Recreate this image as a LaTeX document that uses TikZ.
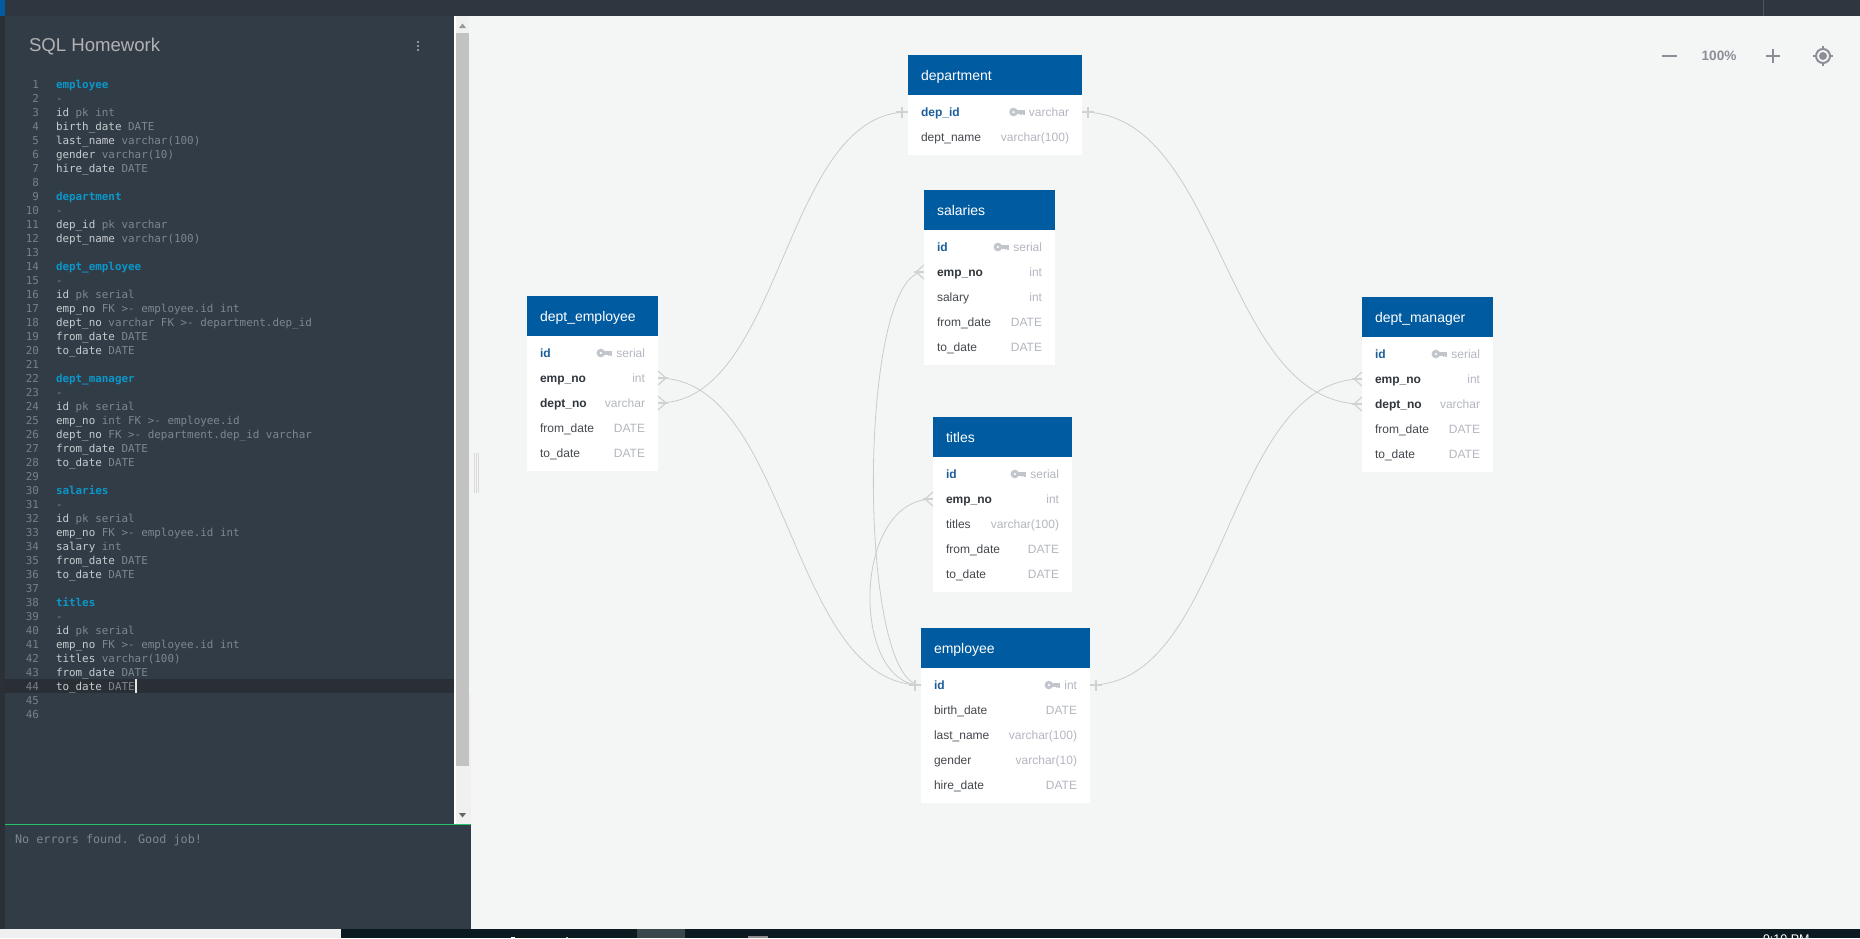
\documentclass[tikz,border=0pt]{standalone}
\usepackage{fontspec}
\setmainfont{Liberation Sans}
\newfontfamily\edfont{DejaVu Sans Mono}
\definecolor{bgc}{HTML}{F4F6F5}
\definecolor{panelc}{HTML}{323C47}
\definecolor{topc}{HTML}{2E3640}
\definecolor{stripc}{HTML}{2A3036}
\definecolor{curlc}{HTML}{2A2F35}
\definecolor{hdrc}{HTML}{015BA0}
\definecolor{relc}{HTML}{CACBCB}
\definecolor{footc}{HTML}{D0D1D1}
\definecolor{keyc}{HTML}{C2C5CC}
\definecolor{typec}{HTML}{B4B7C0}
\definecolor{pkc}{HTML}{1C5E9A}
\definecolor{fkc}{HTML}{30363C}
\definecolor{rowc}{HTML}{44484E}
\definecolor{kwc}{HTML}{0B97C9}
\definecolor{edtxt}{HTML}{C6CCCF}
\definecolor{edgrey}{HTML}{7D878F}
\definecolor{lnc}{HTML}{77818A}
\definecolor{ctlc}{HTML}{8A8E96}
\definecolor{taskc}{HTML}{0A1A20}
\definecolor{taskhi}{HTML}{3A474C}
\definecolor{greenc}{HTML}{22C26A}
\tikzset{
  x=1pt,y=-1pt,
  txt/.style={inner sep=0pt,outer sep=0pt},
  tblbody/.style={fill=white,inner sep=0pt,outer sep=0pt,anchor=north west},
  tblhead/.style={fill=hdrc,inner sep=0pt,outer sep=0pt,anchor=north west,minimum height=40pt},
  tbltitle/.style={txt,anchor=base west,text=white,font=\fontsize{14}{16}\selectfont},
  rowbox/.style={inner sep=0pt,outer sep=0pt,minimum height=25pt,anchor=west},
  collabel/.style={txt,anchor=base west,text=rowc,font=\fontsize{12}{14}\selectfont},
  pklabel/.style={txt,anchor=base west,text=pkc,font=\fontsize{12}{14}\selectfont\bfseries},
  fklabel/.style={txt,anchor=base west,text=fkc,font=\fontsize{12}{14}\selectfont\bfseries},
  coltype/.style={txt,anchor=base east,text=typec,font=\fontsize{12}{14}\selectfont},
  rel/.style={draw=relc,line width=0.8pt},
  relfoot/.style={draw=footc,line width=1.2pt},
  lnum/.style={txt,anchor=base east,text=lnc,font=\edfont\fontsize{10.9}{14}\selectfont},
  edline/.style={txt,anchor=base west,text=edtxt,font=\edfont\fontsize{10.9}{14}\selectfont},
  edhead/.style={txt,anchor=base west,text=kwc,font=\edfont\fontsize{10.9}{14}\selectfont\bfseries},
}
\newcommand{\gy}[1]{\textcolor{edgrey}{#1}}
\newcommand{\cl}[2]{%
  \node[lnum] (ln#1) at (39,{74+14*#1}) {#1};
  \node[edline] (ed#1) at (56,{74+14*#1}) {#2};}
\newcommand{\ch}[2]{%
  \node[lnum] (ln#1) at (39,{74+14*#1}) {#1};
  \node[edhead] (ed#1) at (56,{74+14*#1}) {#2};}
% table: id, x, width, top, title, rows
\newcommand{\dbtable}[6]{%
  \node[tblbody,minimum width=#3pt,minimum height={25*#6+10}] (#1) at (#2,#4+40) {};
  \node[tblhead,minimum width=#3pt] (#1-head) at (#2,#4) {};
  \node[tbltitle] (#1-title) at (#2+13,#4+25) {#5};}
% row: name, x, width, y centre, label style, label, type
\newcommand{\dbrow}[7]{%
  \node[rowbox,minimum width=#3pt] (#1) at (#2,#4) {};
  \node[#5] (#1-l) at ([shift={(13pt,-4pt)}]#1.west) {#6};
  \node[coltype] (#1-t) at ([shift={(-13pt,-4pt)}]#1.east) {#7};}
\newcommand{\keyicon}[1]{%
  \begin{scope}[shift={(#1.base west)}]
    \fill[keyc,even odd rule] (-15.5,-4) circle[radius=4.3] (-15.5,-4) circle[radius=1.5];
    \fill[keyc] (-12,-5.8) rectangle (-4,-2.3);
    \fill[keyc] (-8.8,-2.3) rectangle (-7,-0.6);
    \fill[keyc] (-6,-2.3) rectangle (-4,-0.6);
  \end{scope}}
\newcommand{\crowR}[1]{%
  \draw[relfoot] ([yshift=7pt]#1.east) -- ([xshift=8pt]#1.east) -- ([yshift=-7pt]#1.east);
  \draw[relfoot] (#1.east) -- ([xshift=10pt]#1.east);}
\newcommand{\crowL}[1]{%
  \draw[relfoot] ([yshift=7pt]#1.west) -- ([xshift=-8pt]#1.west) -- ([yshift=-7pt]#1.west);
  \draw[relfoot] (#1.west) -- ([xshift=-10pt]#1.west);}
\newcommand{\barR}[1]{%
  \draw[relfoot] (#1.east) -- ([xshift=12pt]#1.east);
  \draw[relfoot] ([shift={(6pt,5.5pt)}]#1.east) -- ([shift={(6pt,-5.5pt)}]#1.east);}
\newcommand{\barL}[1]{%
  \draw[relfoot] (#1.west) -- ([xshift=-12pt]#1.west);
  \draw[relfoot] ([shift={(-6pt,5.5pt)}]#1.west) -- ([shift={(-6pt,-5.5pt)}]#1.west);}
\begin{document}
\begin{tikzpicture}
\useasboundingbox (0,0) rectangle (1860,938);
\clip (0,0) rectangle (1860,938);
% backgrounds
\fill[bgc] (0,0) rectangle (1860,938);
\fill[topc] (0,0) rectangle (1860,16);
\fill[hdrc] (0,0) rectangle (5,16);
\draw[color=topc!85!white,line width=0.7pt] (1763,0) -- (1763,16);
\fill[stripc] (0,16) rectangle (5,929);
\fill[panelc] (5,16) rectangle (454,824);
\fill[panelc] (5,824) rectangle (471,929);
\fill[curlc] (5,679) rectangle (454,693);
\fill[white] (454,16) rectangle (456,824);
\fill[black!6] (456,16) rectangle (469,824);
\fill[black!24] (456,33) rectangle (469,766);
\fill[black!6] (469,693) rectangle (471,824);
\fill[black!40] (459,28) -- (462.5,23.5) -- (466,28) -- cycle;
\fill[black!60] (459,813) -- (462.5,817.5) -- (466,813) -- cycle;
\draw[color=greenc,line width=1.2pt] (5,824.4) -- (471,824.4);
\foreach \lx in {474,476,478} \draw[color=black!15,line width=0.8pt] (\lx,453) -- (\lx,493);
% bottom bar
\fill[black!6] (0,929) rectangle (341,938);
\fill[taskc] (341,929) rectangle (1860,938);
\fill[taskhi] (637,929) rectangle (685,938);
\fill[white] (511,936.6) rectangle (515,938);
\fill[black!30!white] (566,937) rectangle (568,938);
\fill[black!45!white] (748,936.4) rectangle (768,938);
\node[txt,anchor=base west,text=white,font=\fontsize{12.5}{14}\selectfont] (clock) at (1763,943.5) {9:10 PM};
% title
\node[txt,anchor=base west,text=black!30!white,font=\fontsize{18.6}{20}\selectfont] (doctitle) at (29,51.5) {SQL Homework};
\foreach \dy in {42,46,50} \fill[black!30!white] (418,\dy) circle[radius=1.2];
% editor
\ch{1}{employee}
\cl{2}{\gy{-}}
\cl{3}{id \gy{pk int}}
\cl{4}{birth\_date \gy{DATE}}
\cl{5}{last\_name \gy{varchar(100)}}
\cl{6}{gender \gy{varchar(10)}}
\cl{7}{hire\_date \gy{DATE}}
\cl{8}{}
\ch{9}{department}
\cl{10}{\gy{-}}
\cl{11}{dep\_id \gy{pk varchar}}
\cl{12}{dept\_name \gy{varchar(100)}}
\cl{13}{}
\ch{14}{dept\_employee}
\cl{15}{\gy{-}}
\cl{16}{id \gy{pk serial}}
\cl{17}{emp\_no \gy{FK >- employee.id int}}
\cl{18}{dept\_no \gy{varchar FK >- department.dep\_id}}
\cl{19}{from\_date \gy{DATE}}
\cl{20}{to\_date \gy{DATE}}
\cl{21}{}
\ch{22}{dept\_manager}
\cl{23}{\gy{-}}
\cl{24}{id \gy{pk serial}}
\cl{25}{emp\_no \gy{int FK >- employee.id}}
\cl{26}{dept\_no \gy{FK >- department.dep\_id varchar}}
\cl{27}{from\_date \gy{DATE}}
\cl{28}{to\_date \gy{DATE}}
\cl{29}{}
\ch{30}{salaries}
\cl{31}{\gy{-}}
\cl{32}{id \gy{pk serial}}
\cl{33}{emp\_no \gy{FK >- employee.id int}}
\cl{34}{salary \gy{int}}
\cl{35}{from\_date \gy{DATE}}
\cl{36}{to\_date \gy{DATE}}
\cl{37}{}
\ch{38}{titles}
\cl{39}{\gy{-}}
\cl{40}{id \gy{pk serial}}
\cl{41}{emp\_no \gy{FK >- employee.id int}}
\cl{42}{titles \gy{varchar(100)}}
\cl{43}{from\_date \gy{DATE}}
\cl{44}{to\_date \gy{DATE}}
\cl{45}{}
\cl{46}{}
\fill[black!10] (135,679) rectangle (136.6,693);
\node[txt,anchor=base west,text=edgrey,font=\edfont\fontsize{11.8}{14}\selectfont] (console) at (15,843) {No errors found. Good job!};
% zoom controls
\draw[ctlc,line width=2pt] (1662,55.5) -- (1677,55.5);
\node[txt,text=ctlc,font=\fontsize{13.6}{15}\selectfont\bfseries] (zoomlevel) at (1719,55.5) {100\%};
\draw[ctlc,line width=2pt] (1766,55.5) -- (1780,55.5) (1773,48.5) -- (1773,62.5);
\draw[ctlc,line width=2pt] (1823,56) circle[radius=7];
\fill[ctlc] (1823,56) circle[radius=4];
\draw[ctlc,line width=1.6pt] (1823,46) -- (1823,49) (1823,63) -- (1823,66) (1813,56) -- (1816,56) (1830,56) -- (1833,56);
% tables
\dbtable{de}{527}{131}{296}{dept\_employee}{5}
\dbrow{de-id}{527}{131}{353}{pklabel}{id}{serial}
\dbrow{de-empno}{527}{131}{378}{fklabel}{emp\_no}{int}
\dbrow{de-deptno}{527}{131}{403}{fklabel}{dept\_no}{varchar}
\dbrow{de-from}{527}{131}{428}{collabel}{from\_date}{DATE}
\dbrow{de-to}{527}{131}{453}{collabel}{to\_date}{DATE}
\keyicon{de-id-t}
\dbtable{dp}{908}{174}{55}{department}{2}
\dbrow{dp-depid}{908}{174}{112}{pklabel}{dep\_id}{varchar}
\dbrow{dp-name}{908}{174}{137}{collabel}{dept\_name}{varchar(100)}
\keyicon{dp-depid-t}
\dbtable{sa}{924}{131}{190}{salaries}{5}
\dbrow{sa-id}{924}{131}{247}{pklabel}{id}{serial}
\dbrow{sa-empno}{924}{131}{272}{fklabel}{emp\_no}{int}
\dbrow{sa-salary}{924}{131}{297}{collabel}{salary}{int}
\dbrow{sa-from}{924}{131}{322}{collabel}{from\_date}{DATE}
\dbrow{sa-to}{924}{131}{347}{collabel}{to\_date}{DATE}
\keyicon{sa-id-t}
\dbtable{ti}{933}{139}{417}{titles}{5}
\dbrow{ti-id}{933}{139}{474}{pklabel}{id}{serial}
\dbrow{ti-empno}{933}{139}{499}{fklabel}{emp\_no}{int}
\dbrow{ti-titles}{933}{139}{524}{collabel}{titles}{varchar(100)}
\dbrow{ti-from}{933}{139}{549}{collabel}{from\_date}{DATE}
\dbrow{ti-to}{933}{139}{574}{collabel}{to\_date}{DATE}
\keyicon{ti-id-t}
\dbtable{em}{921}{169}{628}{employee}{5}
\dbrow{em-id}{921}{169}{685}{pklabel}{id}{int}
\dbrow{em-birth}{921}{169}{710}{collabel}{birth\_date}{DATE}
\dbrow{em-last}{921}{169}{735}{collabel}{last\_name}{varchar(100)}
\dbrow{em-gender}{921}{169}{760}{collabel}{gender}{varchar(10)}
\dbrow{em-hire}{921}{169}{785}{collabel}{hire\_date}{DATE}
\keyicon{em-id-t}
\dbtable{dm}{1362}{131}{297}{dept\_manager}{5}
\dbrow{dm-id}{1362}{131}{354}{pklabel}{id}{serial}
\dbrow{dm-empno}{1362}{131}{379}{fklabel}{emp\_no}{int}
\dbrow{dm-deptno}{1362}{131}{404}{fklabel}{dept\_no}{varchar}
\dbrow{dm-from}{1362}{131}{429}{collabel}{from\_date}{DATE}
\dbrow{dm-to}{1362}{131}{454}{collabel}{to\_date}{DATE}
\keyicon{dm-id-t}
% connectors
\draw[rel] (de-deptno.east) .. controls +(125,0) and +(-125,0) .. (dp-depid.west);
\draw[rel] (de-empno.east) .. controls +(131.5,0) and +(-131.5,0) .. (em-id.west);
\draw[rel] (dp-depid.east) .. controls +(140,0) and +(-140,0) .. (dm-deptno.west);
\draw[rel] (em-id.east) .. controls +(136,0) and +(-136,0) .. (dm-empno.west);
\draw[rel] (sa-empno.west) .. controls +(-67,0) and +(-64,0) .. (em-id.west);
\draw[rel] (ti-empno.west) .. controls +(-82,0) and +(-70,0) .. (em-id.west);
\crowR{de-empno}
\crowR{de-deptno}
\crowL{dm-empno}
\crowL{dm-deptno}
\crowL{sa-empno}
\crowL{ti-empno}
\barL{dp-depid}
\barR{dp-depid}
\barL{em-id}
\barR{em-id}
\end{tikzpicture}
\end{document}
